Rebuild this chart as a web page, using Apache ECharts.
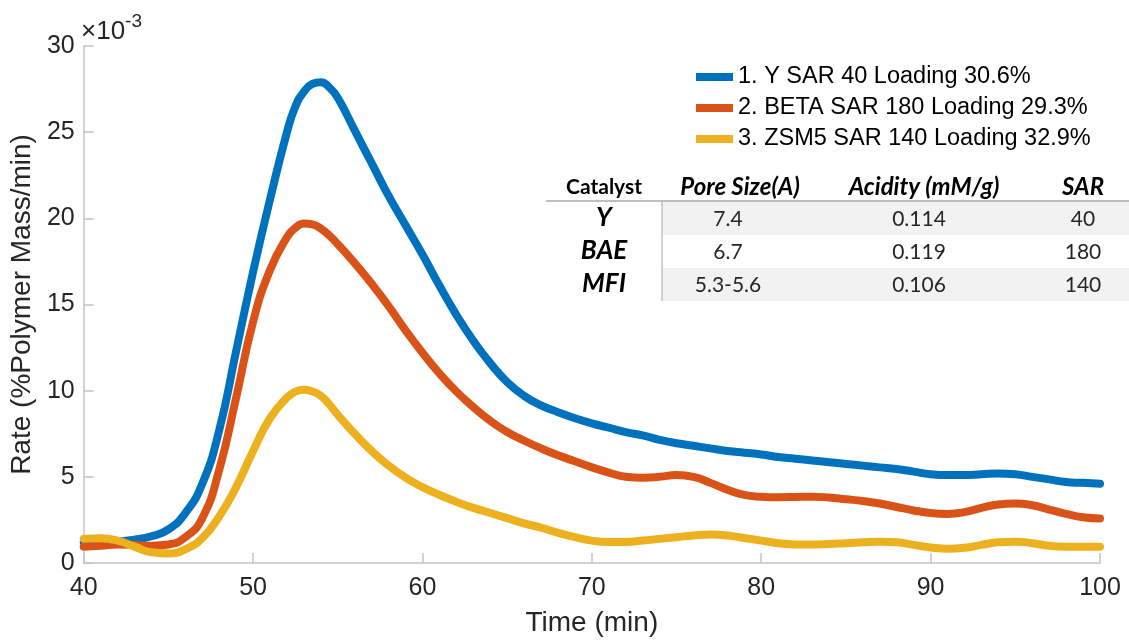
<!DOCTYPE html>
<html>
<head>
<meta charset="utf-8">
<script src="https://cdn.jsdelivr.net/npm/echarts@6/dist/echarts.min.js"></script>
<style>
  html, body { margin: 0; padding: 0; background: #ffffff; }
  #chart { width: 1129px; height: 642px; }
</style>
</head>
<body>
<div id="chart"></div>
<script>
// Time axis (min); half-minute samples around the peaks
const times = [40,41,42,43,44,45,46,47,48,49,50,51,52,52.5,53,53.5,54,54.5,55,56,57,58,59,60,
  61,62,63,64,65,66,67,68,69,70,71,72,73,74,75,76,77,78,79,80,
  81,82,83,84,85,86,87,88,89,90,91,92,93,94,95,96,97,98,99,100];

// Rate, in units of 1e-3 %Polymer Mass/min
const rateY = [1.2,1.2,1.25,1.35,1.55,1.95,2.9,4.6,7.7,12.3,16.9,21.1,25.0,26.5,27.35,27.8,27.9,27.6,27.0,25.1,23.2,21.3,19.6,17.9,
  16.1,14.4,12.9,11.6,10.5,9.7,9.15,8.75,8.4,8.1,7.85,7.6,7.4,7.15,6.95,6.8,6.65,6.5,6.4,6.3,
  6.15,6.05,5.95,5.85,5.75,5.65,5.55,5.45,5.3,5.15,5.1,5.1,5.15,5.2,5.15,5.0,4.85,4.7,4.65,4.6];

const rateBeta = [0.95,1.0,1.07,1.05,1.0,1.07,1.5,2.6,5.4,9.6,14.0,17.0,18.9,19.45,19.7,19.65,19.4,19.0,18.5,17.4,16.2,14.9,13.5,12.2,
  11.0,9.95,9.05,8.25,7.6,7.1,6.65,6.25,5.9,5.55,5.25,5.0,4.95,5.0,5.1,5.0,4.65,4.25,3.95,3.85,
  3.82,3.83,3.85,3.8,3.7,3.6,3.45,3.25,3.05,2.9,2.85,2.95,3.2,3.4,3.45,3.35,3.1,2.85,2.65,2.58];

const rateZsm5 = [1.4,1.43,1.3,0.95,0.62,0.55,0.8,1.45,2.7,4.4,6.5,8.4,9.6,9.95,10.05,9.95,9.7,9.2,8.6,7.5,6.5,5.65,4.95,4.4,
  3.95,3.55,3.2,2.9,2.6,2.3,2.05,1.75,1.5,1.3,1.22,1.22,1.3,1.4,1.5,1.6,1.65,1.6,1.45,1.3,
  1.15,1.08,1.07,1.1,1.15,1.2,1.24,1.2,1.05,0.9,0.83,0.88,1.05,1.2,1.24,1.15,1.0,0.95,0.95,0.95];

const seriesNames = ['1. Y SAR 40 Loading 30.6%', '2. BETA SAR 180 Loading 29.3%', '3. ZSM5 SAR 140 Loading 32.9%'];
const seriesColors = ['#0072BD', '#D95319', '#EDB120'];

const xTicks = [40, 50, 60, 70, 80, 90, 100];
const yTicks = [0, 5, 10, 15, 20, 25, 30];

// Catalyst property table
const tableHeader = ['Catalyst', 'Pore Size(A)', 'Acidity (mM/g)', 'SAR'];
const catalysts = ['Y', 'BAE', 'MFI'];
const poreSizes = ['7.4', '6.7', '5.3-5.6'];
const acidities = ['0.114', '0.119', '0.106'];
const sars = ['40', '180', '140'];

function pairs(ys) { return times.map((t, i) => [t, ys[i]]); }

const chart = echarts.init(document.getElementById('chart'), null, { renderer: 'canvas' });

const FONT = '"Liberation Sans", Arial, Helvetica, sans-serif';
const TFONT = 'Lato, "Noto Sans", sans-serif';

// Table layout
const colX = [604, 740, 924, 1083];
const headerY = 187;
const rowY = [218, 251, 284];
const rowTop = [202, 235, 268];
const rowH = 33;
const tableGraphics = [];
[0, 2].forEach(r => {
  tableGraphics.push({ type: 'rect', shape: { x: 662, y: rowTop[r], width: 467, height: rowH }, style: { fill: '#f2f2f2' }, z: 1 });
});
tableGraphics.push({ type: 'line', shape: { x1: 546, y1: 201, x2: 1129, y2: 201 }, style: { stroke: '#bfbfbf', lineWidth: 2 }, z: 2 });
tableGraphics.push({ type: 'line', shape: { x1: 662, y1: 202, x2: 662, y2: 301 }, style: { stroke: '#a6a6a6', lineWidth: 1 }, z: 2 });
tableHeader.forEach((h, i) => {
  tableGraphics.push({ type: 'text', x: colX[i], y: headerY, z: 3, style: {
    text: h, fill: '#000000', align: 'center', verticalAlign: 'middle',
    font: (i === 0 ? 'bold 21px ' : 'italic bold 24px ') + TFONT } });
});
catalysts.forEach((c, r) => {
  const cells = [c, poreSizes[r], acidities[r], sars[r]];
  cells.forEach((v, i) => {
    tableGraphics.push({ type: 'text', x: colX[i] + (i === 1 ? -12 : (i === 2 ? -5 : 0)), y: rowY[r] + (i === 0 ? 0 : 1), z: 3, style: {
      text: v, fill: i === 0 ? '#000000' : '#262626', align: 'center', verticalAlign: 'middle',
      font: (i === 0 ? 'italic bold 26px ' : '21px ') + TFONT } });
  });
});

const option = {
  backgroundColor: '#ffffff',
  animation: false,
  grid: { left: 80, right: 29, top: 46, bottom: 75.5, containLabel: false },
  legend: {
    orient: 'vertical', left: 691, top: 60,
    icon: 'rect', itemWidth: 37, itemHeight: 8, itemGap: 7,
    data: seriesNames,
    textStyle: { fontFamily: FONT, fontSize: 23.5, color: '#000000', lineHeight: 24 },
    selectedMode: false
  },
  xAxis: {
    type: 'value', min: 40, max: 100, interval: 10,
    name: 'Time (min)', nameLocation: 'middle', nameGap: 46,
    nameTextStyle: { fontFamily: FONT, fontSize: 28, color: '#262626' },
    axisLine: { show: true, lineStyle: { color: '#c4c4c4', width: 1.5 } },
    axisTick: { show: true, inside: true, length: 10, lineStyle: { color: '#c4c4c4', width: 1.5 } },
    axisLabel: { fontFamily: FONT, fontSize: 25, color: '#262626', margin: 13,
      formatter: v => xTicks.includes(v) ? String(v) : '' },
    splitLine: { show: false }
  },
  yAxis: {
    type: 'value', min: 0, max: 30, interval: 5,
    name: 'Rate (%Polymer Mass/min)', nameLocation: 'middle', nameGap: 39, nameRotate: 90,
    nameTextStyle: { fontFamily: FONT, fontSize: 28, color: '#262626' },
    axisLine: { show: true, lineStyle: { color: '#c4c4c4', width: 1.5 } },
    axisTick: { show: true, inside: true, length: 10, lineStyle: { color: '#c4c4c4', width: 1.5 } },
    axisLabel: { fontFamily: FONT, fontSize: 25, color: '#262626', margin: 9,
      formatter: v => yTicks.includes(v) ? String(v) : '' },
    splitLine: { show: false }
  },
  series: [rateY, rateBeta, rateZsm5].map((ys, i) => ({
    name: seriesNames[i], type: 'line', data: pairs(ys), smooth: 0.5,
    showSymbol: false, symbol: 'none',
    lineStyle: { color: seriesColors[i], width: 8, cap: 'round', join: 'round' },
    itemStyle: { color: seriesColors[i] },
    emphasis: { disabled: true }
  })),
  graphic: [
    { type: 'text', left: 81, top: 12, z: 5, style: {
      text: '{a|×10}{b|-3}',
      rich: {
        a: { fontFamily: FONT, fontSize: 26, fill: '#262626', padding: [12, 0, 0, 0] },
        b: { fontFamily: FONT, fontSize: 19, fill: '#262626', padding: [0, 0, 8, 0] }
      } } }
  ].concat(tableGraphics)
};

chart.setOption(option);
</script>
</body>
</html>
